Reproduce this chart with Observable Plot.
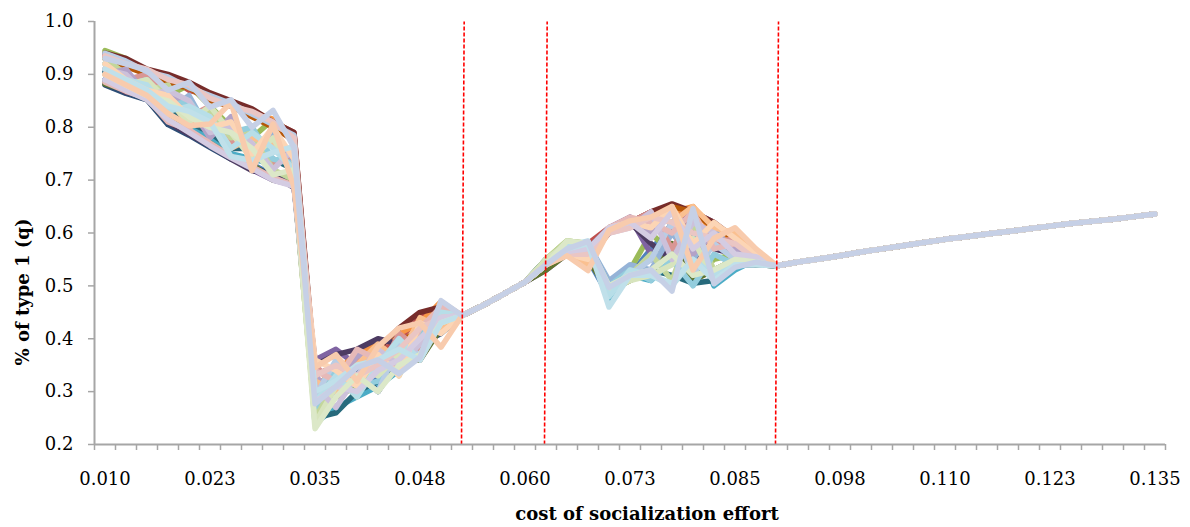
<!DOCTYPE html>
<html>
<head>
<meta charset="utf-8">
<script src="https://cdn.jsdelivr.net/npm/d3@7"></script>
<script src="https://cdn.jsdelivr.net/npm/@observablehq/plot@0.6"></script>
<style>
  html, body { margin: 0; padding: 0; background: #ffffff; }
  #chart svg { display: block; }
</style>
</head>
<body>
<div id="chart"></div>
<script>
// ---- categories (cost of socialization effort), one per Excel category ----
const categories = [
  0.0100, 0.0125, 0.0150, 0.0175, 0.0200, 0.0225, 0.0250, 0.0275, 0.0300, 0.0325,
  0.0350, 0.0375, 0.0400, 0.0425, 0.0450, 0.0475, 0.0500, 0.0525, 0.0550, 0.0575,
  0.0600, 0.0625, 0.0650, 0.0675, 0.0700, 0.0725, 0.0750, 0.0775, 0.0800, 0.0825,
  0.0850, 0.0875, 0.0900, 0.0925, 0.0950, 0.0975, 0.1000, 0.1025, 0.1050, 0.1075,
  0.1100, 0.1125, 0.1150, 0.1175, 0.1200, 0.1225, 0.1250, 0.1275, 0.1300, 0.1325,
  0.1350
];
const xLabelValues = [0.0100, 0.0225, 0.0350, 0.0475, 0.0600, 0.0725, 0.0850, 0.0975, 0.1100, 0.1225, 0.1350];
const xTickLabels = ["0.010", "0.023", "0.035", "0.048", "0.060", "0.073", "0.085", "0.098", "0.110", "0.123", "0.135"];
const yTickValues = [0.2, 0.3, 0.4, 0.5, 0.6, 0.7, 0.8, 0.9, 1.0];
const xTitle = "cost of socialization effort";
const yTitle = "% of type 1 (q)";

// red dashed separators (bottom / top positions, slightly slanted in the original)
const separatorBottom = [0.05244, 0.06232, 0.08982];
const separatorTop    = [0.05276, 0.06264, 0.09018];

// ---- series colours (Excel palette, drawn in this order) ----
const seriesColors = [
  "#4F81BD", "#C0504D", "#9BBB59", "#8064A2", "#4BACC6", "#F79646",
  "#2C4D75", "#772C2A", "#5F7530", "#4D3B62", "#276A7C", "#B65708",
  "#95B3D7", "#D99694", "#C3D69B", "#B3A2C7", "#93CDDD", "#FAC090",
  "#B9CDE5", "#E6B9B8", "#D7E4BD", "#CCC1DA", "#B7DEE8", "#FCD5B5",
  "#EAC6C4", "#D4CCE2", "#DCE8C8", "#C0E0EA", "#F8CBAD", "#C6D0E6"
];

// values for categories 0.0100 … 0.0500 (17 per run)
const lowCostRuns = [
  [.89,.87,.86,.82,.80,.77,.75,.73,.71,.70, .28,.30,.33,.32,.35,.38,.42],
  [.935,.925,.905,.895,.87,.86,.845,.825,.81,.79, .33,.35,.34,.37,.40,.44,.46],
  [.945,.93,.90,.86,.88,.84,.80,.78,.815,.70, .25,.29,.31,.35,.36,.40,.45],
  [.885,.865,.855,.81,.79,.765,.745,.72,.70,.69, .36,.38,.35,.33,.37,.41,.43],
  [.91,.88,.87,.83,.80,.78,.75,.74,.73,.76, .24,.27,.29,.31,.34,.37,.44],
  [.93,.92,.90,.89,.88,.86,.85,.83,.815,.785, .31,.34,.37,.39,.41,.43,.47],
  [.88,.864,.852,.805,.785,.762,.74,.725,.71,.69, .29,.32,.34,.30,.36,.39,.41],
  [.94,.93,.91,.90,.885,.865,.85,.835,.81,.79, .34,.33,.36,.38,.42,.45,.46],
  [.882,.87,.853,.815,.79,.77,.745,.73,.70,.695, .27,.30,.32,.34,.36,.36,.42],
  [.89,.866,.86,.81,.787,.765,.74,.718,.71,.686, .35,.37,.38,.40,.39,.41,.44],
  [.905,.88,.87,.84,.81,.79,.76,.76,.74,.72, .25,.26,.30,.32,.35,.38,.43],
  [.93,.915,.90,.88,.875,.85,.84,.82,.80,.775, .30,.33,.35,.36,.39,.42,.45],
  [.92,.90,.88,.83,.86,.79,.81,.76,.79,.72, .30,.35,.31,.37,.34,.42,.45],
  [.91,.89,.90,.85,.82,.84,.77,.80,.73,.75, .35,.31,.36,.33,.41,.38,.44],
  [.93,.90,.87,.88,.81,.83,.78,.79,.72,.70, .25,.33,.29,.38,.33,.41,.46],
  [.90,.91,.86,.87,.84,.78,.82,.75,.78,.74, .33,.29,.37,.35,.40,.36,.43],
  [.92,.88,.89,.84,.85,.80,.79,.80,.74,.73, .27,.34,.31,.32,.38,.41,.45],
  [.90,.89,.87,.86,.80,.82,.76,.78,.77,.71, .32,.30,.35,.39,.36,.44,.42],
  [.94,.925,.905,.895,.875,.86,.845,.825,.805,.785, .29,.36,.33,.30,.39,.37,.44],
  [.885,.868,.855,.81,.795,.77,.745,.725,.705,.69, .34,.32,.38,.36,.34,.42,.46],
  [.92,.88,.89,.85,.81,.84,.79,.74,.78,.71, .24,.31,.35,.33,.37,.40,.43],
  [.91,.90,.86,.87,.85,.79,.80,.77,.72,.76, .31,.27,.33,.38,.35,.39,.44],
  [.89,.89,.88,.83,.84,.82,.76,.79,.76,.72, .28,.33,.29,.35,.40,.36,.45],
  [.92,.89,.87,.86,.82,.80,.81,.75,.80,.74, .36,.34,.31,.37,.33,.43,.41],
  [.935,.92,.91,.89,.88,.855,.84,.83,.81,.78, .33,.35,.33,.35,.38,.42,.44],
  [.89,.87,.852,.815,.79,.765,.742,.722,.70,.688, .28,.31,.30,.34,.36,.40,.44],
  [.90,.88,.86,.85,.82,.80,.79,.76,.71,.72, .23,.29,.33,.30,.35,.37,.43],
  [.91,.89,.87,.84,.83,.81,.745,.737,.752,.764, .30,.32,.35,.36,.38,.36,.43],
  [.90,.88,.86,.826,.803,.806,.847,.718,.806,.687, .346,.37,.32,.385,.42,.43,.384],
  [.93,.92,.907,.87,.885,.838,.852,.80,.832,.762, .277,.31,.346,.36,.334,.365,.472]
];

// shared values for categories 0.0525 … 0.0600
const sharedBridge = [0.444, 0.463, 0.485, 0.507];

// values for categories 0.0625 … 0.0875 (11 per run)
const midCostRuns = [
  [.54,.57,.55,.48,.52,.57,.61,.63,.58,.55,.54],
  [.54,.56,.58,.61,.62,.64,.65,.62,.60,.57,.55],
  [.55,.585,.58,.50,.53,.60,.56,.52,.55,.56,.54],
  [.53,.56,.57,.61,.63,.56,.60,.64,.62,.58,.56],
  [.54,.57,.58,.47,.52,.51,.55,.60,.50,.53,.55],
  [.54,.56,.55,.60,.62,.63,.64,.65,.60,.58,.55],
  [.55,.57,.56,.49,.53,.55,.62,.57,.52,.54,.54],
  [.54,.57,.57,.61,.62,.64,.655,.64,.62,.59,.56],
  [.53,.56,.55,.49,.51,.53,.58,.51,.53,.55,.54],
  [.54,.57,.56,.60,.62,.58,.55,.61,.57,.56,.55],
  [.55,.57,.58,.50,.52,.53,.52,.505,.51,.54,.54],
  [.54,.56,.57,.60,.62,.63,.65,.64,.61,.59,.56],
  [.54,.57,.58,.51,.54,.53,.60,.55,.61,.56,.55],
  [.54,.56,.55,.61,.62,.64,.57,.63,.58,.59,.56],
  [.55,.585,.58,.49,.52,.56,.51,.62,.53,.55,.545],
  [.54,.565,.56,.60,.63,.60,.64,.56,.60,.57,.56],
  [.54,.57,.58,.50,.53,.51,.55,.50,.56,.54,.55],
  [.54,.56,.54,.61,.62,.63,.62,.65,.61,.60,.56],
  [.54,.57,.57,.50,.52,.55,.62,.52,.58,.55,.55],
  [.54,.56,.56,.61,.63,.62,.60,.64,.57,.58,.56],
  [.55,.58,.58,.49,.51,.52,.54,.59,.51,.54,.545],
  [.54,.565,.57,.60,.61,.64,.55,.62,.60,.56,.555],
  [.54,.575,.585,.48,.53,.52,.50,.55,.52,.54,.54],
  [.54,.56,.55,.61,.62,.61,.65,.58,.62,.59,.56],
  [.54,.56,.56,.60,.61,.63,.62,.60,.59,.58,.55],
  [.54,.565,.57,.61,.62,.59,.64,.57,.60,.56,.555],
  [.54,.585,.58,.50,.52,.53,.56,.52,.53,.55,.545],
  [.54,.57,.58,.46,.52,.52,.505,.55,.51,.54,.54],
  [.54,.557,.529,.605,.623,.63,.65,.53,.59,.61,.57],
  [.54,.57,.584,.497,.52,.53,.49,.646,.504,.535,.545]
];

// shared values for categories 0.0900 … 0.1350
const sharedTail = [0.538, 0.545, 0.551, 0.557, 0.564, 0.570, 0.576, 0.582, 0.588, 0.593,
                    0.598, 0.603, 0.608, 0.613, 0.618, 0.622, 0.626, 0.631, 0.636];

// ---- build tidy rows ----
const runs = lowCostRuns.map((low, s) => {
  const vals = low.concat(sharedBridge, midCostRuns[s], sharedTail);
  return vals.map((v, i) => ({run: s, cost: categories[i], q: v}));
});

const step = categories[1] - categories[0];
const xDomain = [categories[0] - step / 2, categories[categories.length - 1] + step / 2];
const boundaries = categories.map(c => c - step / 2).concat([xDomain[1]]);
const labelMap = new Map(xLabelValues.map((v, i) => [v, xTickLabels[i]]));
const separators = separatorBottom.map((b, i) => ({b, t: separatorTop[i]}));

const axisGray = "#A6A6A6";
const font = "'DejaVu Serif', 'Liberation Serif', serif";

const marks = [];
runs.forEach((rows, s) => {
  marks.push(Plot.line(rows, {
    x: "cost", y: "q", stroke: seriesColors[s], strokeWidth: 5.5,
    strokeLinejoin: "round", strokeLinecap: "round"
  }));
});
marks.push(
  Plot.link(separators, {
    x1: "b", x2: "t", y1: () => 0.2, y2: () => 1.0,
    stroke: "#FF0000", strokeWidth: 1.6, strokeDasharray: "4,2"
  }),
  // axis lines
  Plot.ruleX([xDomain[0]], {stroke: axisGray, strokeWidth: 2}),
  Plot.ruleY([0.2], {stroke: axisGray, strokeWidth: 2}),
  // y axis
  Plot.axisY({
    ticks: yTickValues, tickFormat: d3.format(".1f"), tickSize: 6, tickPadding: 15,
    stroke: axisGray, strokeWidth: 1.5, fontSize: 18, fill: "#000", label: null
  }),
  // x tick marks at category boundaries
  Plot.axisX({
    ticks: boundaries, tickFormat: () => "", tickSize: 6,
    stroke: axisGray, strokeWidth: 1.5, label: null
  }),
  // x labels at category centres
  Plot.axisX({
    ticks: xLabelValues, tickFormat: d => labelMap.get(d), tickSize: 0, tickPadding: 28,
    fontSize: 18, fill: "#000", label: null
  }),
  Plot.text([xTitle], {
    frameAnchor: "bottom", dx: 17, dy: 70, fontWeight: "bold", fontSize: 18,
    fill: "#000", lineAnchor: "middle"
  })
);

const chart = Plot.plot({
  width: 1190,
  height: 527,
  marginLeft: 94,
  marginRight: 25,
  marginTop: 21,
  marginBottom: 83,
  style: {fontFamily: font, background: "#ffffff", overflow: "visible"},
  x: {domain: xDomain},
  y: {domain: [0.2, 1.0]},
  marks
});

// rotated y-axis title, placed beside the axis as in the original
d3.select(chart).append("text")
  .attr("transform", "translate(24,292) rotate(-90)")
  .attr("text-anchor", "middle")
  .attr("dominant-baseline", "middle")
  .attr("font-family", font)
  .attr("font-size", 18)
  .attr("font-weight", "bold")
  .attr("fill", "#000")
  .text(yTitle);

document.getElementById("chart").appendChild(chart);
</script>
</body>
</html>
